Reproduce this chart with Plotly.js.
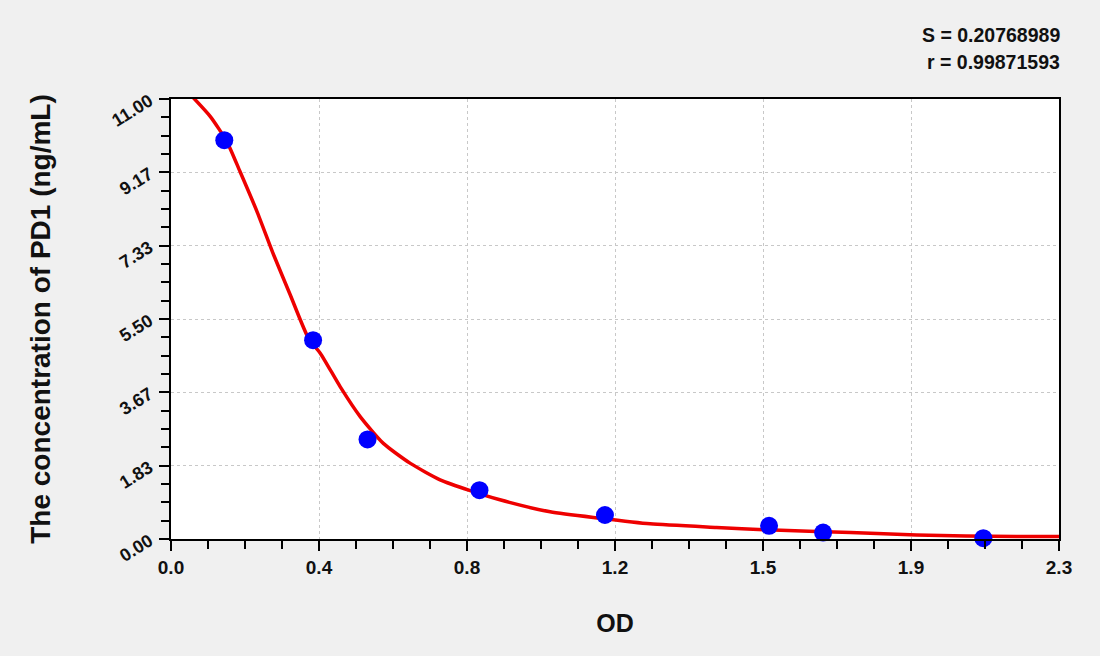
<!DOCTYPE html>
<html>
<head>
<meta charset="utf-8">
<script src="https://cdn.plot.ly/plotly-3.0.1.min.js"></script>
<style>
  html, body { margin: 0; padding: 0; background: #f0f0f0; }
  #chart { width: 1100px; height: 656px; }
</style>
</head>
<body>
<div id="chart"></div>
<script>
// standard points (OD vs concentration)
const stdOD   = [0.138, 0.368, 0.509, 0.799, 1.124, 1.549, 1.689, 2.104];
const stdConc = [9.97, 4.97, 2.49, 1.22, 0.60, 0.33, 0.16, 0.02];

// fitted curve
const fitOD   = [0.058, 0.102, 0.145, 0.179, 0.223, 0.266, 0.309, 0.356, 0.387, 0.438, 0.490, 0.550,
                 0.620, 0.697, 0.775, 0.852, 0.982, 1.111, 1.241, 1.413, 1.543, 1.760, 1.931, 2.190, 2.302];
const fitConc = [11.03, 10.56, 9.93, 9.18, 8.18, 7.10, 6.10, 5.02, 4.64, 3.81, 3.06, 2.39,
                 1.89, 1.48, 1.21, 0.98, 0.68, 0.52, 0.38, 0.29, 0.23, 0.16, 0.10, 0.06, 0.06];

const xTickVals = [0, 2.3 / 6, 4.6 / 6, 6.9 / 6, 9.2 / 6, 11.5 / 6, 2.3];
const xTickText = ['0.0', '0.4', '0.8', '1.2', '1.5', '1.9', '2.3'];
const yTickVals = [0, 11 / 6, 22 / 6, 33 / 6, 44 / 6, 55 / 6, 11];
const yTickText = ['0.00', '1.83', '3.67', '5.50', '7.33', '9.17', '11.00'];

const FONT = 'Liberation Sans, Arial, sans-serif';

const traces = [
  { x: fitOD, y: fitConc, type: 'scatter', mode: 'lines', line: { color: '#ee0000', width: 3.5, shape: 'spline', smoothing: 0.6 }, hoverinfo: 'skip' },
  { x: stdOD, y: stdConc, type: 'scatter', mode: 'markers', marker: { color: '#0000ff', size: 18 }, cliponaxis: false },
];

const axisBase = {
  showline: true, linecolor: '#000', linewidth: 2, mirror: true,
  ticks: 'outside', ticklen: 10, tickwidth: 2, tickcolor: '#000',
  gridcolor: '#c8c8c8', griddash: 'dot', gridwidth: 1,
  zeroline: false, tickmode: 'array',
};

const layout = {
  paper_bgcolor: '#f0f0f0',
  plot_bgcolor: '#ffffff',
  showlegend: false,
  margin: { l: 171, r: 41, t: 99, b: 117 },
  xaxis: {
    ...axisBase,
    range: [0, 2.3],
    tickvals: xTickVals, ticktext: xTickText,
    tickfont: { family: FONT, size: 19, color: '#111', weight: 'bold' },
    minor: { ticks: 'outside', ticklen: 8, tickwidth: 2, tickcolor: '#000', tick0: 0, dtick: 2.3 / 24, showgrid: false },
    title: { text: 'OD', standoff: 38, font: { family: FONT, size: 25, color: '#111', weight: 'bold' } },
  },
  yaxis: {
    ...axisBase,
    range: [0, 11],
    tickangle: -32,
    ticklabelstandoff: 6,
    tickvals: yTickVals, ticktext: yTickText,
    tickfont: { family: FONT, size: 18, color: '#111', weight: 'bold' },
    minor: { ticks: 'outside', ticklen: 8, tickwidth: 2, tickcolor: '#000', tick0: 0, dtick: 11 / 24, showgrid: false },
    title: { text: 'The concentration of PD1 (ng/mL)', standoff: 50, font: { family: FONT, size: 28, color: '#111', weight: 'bold' } },
  },
  annotations: [
    { text: 'S = 0.20768989', xref: 'paper', yref: 'paper', x: 1.003, y: 1, xanchor: 'right', yanchor: 'bottom',
      yshift: 51, showarrow: false, font: { family: FONT, size: 19.5, color: '#111', weight: 'bold' } },
    { text: 'r = 0.99871593', xref: 'paper', yref: 'paper', x: 1.003, y: 1, xanchor: 'right', yanchor: 'bottom',
      yshift: 24, showarrow: false, font: { family: FONT, size: 19.5, color: '#111', weight: 'bold' } },
  ],
};

Plotly.newPlot('chart', traces, layout, { displayModeBar: false, staticPlot: true });
</script>
</body>
</html>
